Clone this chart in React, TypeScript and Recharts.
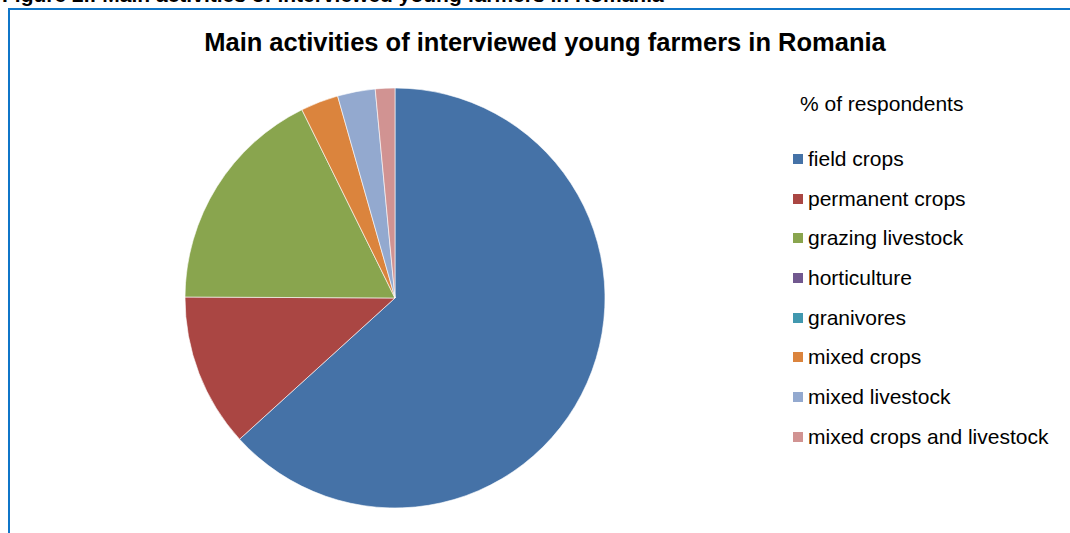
import React from 'react';
import { PieChart, Pie, Cell, Legend } from 'recharts';

const categories = [
  'field crops',
  'permanent crops',
  'grazing livestock',
  'horticulture',
  'granivores',
  'mixed crops',
  'mixed livestock',
  'mixed crops and livestock',
];
const respondents = [63.2, 11.8, 17.6, 0, 0, 2.9, 2.9, 1.5];
const colors = ['#4572A7', '#AA4643', '#89A54E', '#71588F', '#4198AF', '#DB843D', '#93A9CF', '#D19392'];

const data = categories.map((name, i) => ({ name, value: respondents[i] }));

const font = 'Arial, "Liberation Sans", sans-serif';

const renderLegend = () => (
  <div style={{ fontFamily: font, color: '#000' }}>
    <div style={{ fontSize: 21, marginLeft: 7, marginBottom: 23, lineHeight: '24px' }}>% of respondents</div>
    {categories.map((c, i) => (
      <div key={c} style={{ display: 'flex', alignItems: 'center', height: 39.7 }}>
        <span style={{ width: 10, height: 10, background: colors[i], marginRight: 5 }} />
        <span style={{ fontSize: 21 }}>{c}</span>
      </div>
    ))}
  </div>
);

export default function App() {
  return (
    <div style={{ position: 'absolute', left: 0, top: 0, width: 1070, height: 533, overflow: 'hidden', background: '#fff' }}>
      <div
        style={{
          position: 'absolute',
          left: 2,
          top: -17,
          fontFamily: font,
          fontWeight: 'bold',
          fontSize: 21,
          lineHeight: '24px',
          whiteSpace: 'nowrap',
        }}
      >
        Figure 2.: Main activities of interviewed young farmers in Romania
      </div>
      <div
        style={{
          position: 'absolute',
          left: 8,
          top: 8,
          width: 1100,
          height: 600,
          borderLeft: '2px solid #0f75c8',
          borderTop: '2px solid #0f75c8',
        }}
      />
      <div
        style={{
          position: 'absolute',
          left: 0,
          top: 28,
          width: 1090,
          textAlign: 'center',
          fontFamily: font,
          fontWeight: 'bold',
          fontSize: 25.5,
          whiteSpace: 'nowrap',
        }}
      >
        Main activities of interviewed young farmers in Romania
      </div>
      <div style={{ position: 'absolute', left: 0, top: 0 }}>
        <PieChart width={1070} height={533} margin={{ top: 0, right: 0, bottom: 0, left: 0 }}>
          <Pie
            data={data}
            dataKey="value"
            nameKey="name"
            cx={395}
            cy={298}
            outerRadius={210}
            startAngle={90}
            endAngle={-270}
            isAnimationActive={false}
            strokeWidth={0.6}
          >
            {data.map((d, i) => (
              <Cell key={d.name} fill={colors[i]} stroke={i === 3 || i === 4 ? colors[i] : '#ffffff'} />
            ))}
          </Pie>
          <Legend
            layout="vertical"
            align="right"
            verticalAlign="top"
            content={renderLegend}
            wrapperStyle={{ left: 793, top: 92, width: 270 }}
          />
        </PieChart>
      </div>
    </div>
  );
}
